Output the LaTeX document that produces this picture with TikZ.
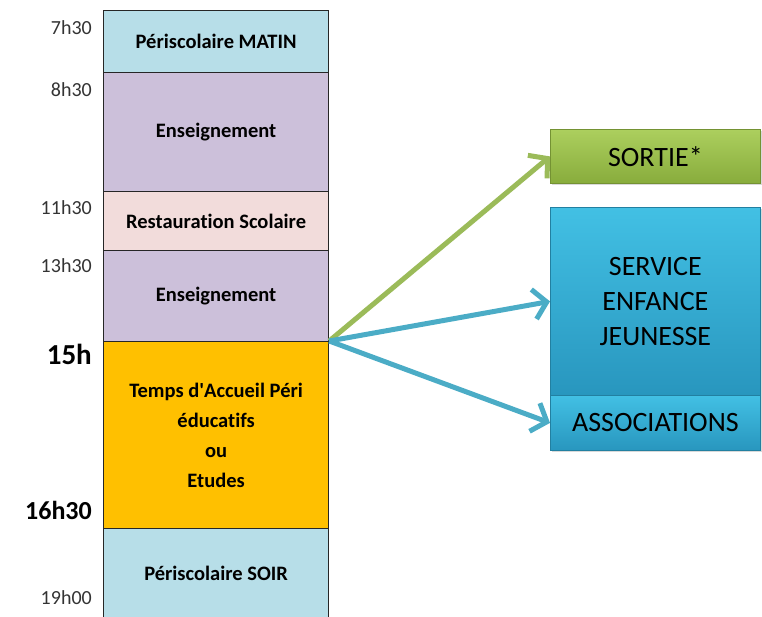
\documentclass[tikz,border=0pt]{standalone}
\usepackage{fontspec}
\setmainfont{Carlito}[Ligatures=NoCommon]
\usepackage{xcolor}
\usetikzlibrary{arrows.meta,shadows}

\definecolor{matin}{HTML}{B7DEE8}
\definecolor{cours}{HTML}{CCC0DA}
\definecolor{repas}{HTML}{F2DCDB}
\definecolor{tap}{HTML}{FFC000}
\definecolor{vert}{HTML}{9BBB59}
\definecolor{vertH}{HTML}{ACCF5E}
\definecolor{vertB}{HTML}{88AC3C}
\definecolor{bleu}{HTML}{4BACC6}
\definecolor{bleuH}{HTML}{42C0E4}
\definecolor{bleuB}{HTML}{2896BE}

\begin{document}
\begin{tikzpicture}[x=1pt,y=-1pt,
  every node/.style={inner sep=0pt},
  slot/.style={draw=black!85,line width=1.2pt,anchor=north west,minimum width=225pt,
    font=\fontsize{20.5}{30}\selectfont\bfseries,align=center},
  hour/.style={anchor=east,font=\fontsize{20}{22}\selectfont,text=black!80},
  bighour/.style={anchor=east,font=\fontsize{#1}{30}\selectfont\bfseries},
  exitbox/.style={anchor=north west,minimum width=210pt,draw=#1B!85!black,line width=0.8pt,
    top color=#1H,bottom color=#1B,
    drop shadow={opacity=0.3,shadow xshift=2pt,shadow yshift=-2pt},
    font=\fontsize{28}{35}\selectfont,align=center},
  link/.style={line width=5pt,draw=#1,-{Straight Barb[length=13pt,width=30pt]}}]
  \useasboundingbox (0,0) rectangle (762,616);
  \begin{scope}
    \clip (0,0) rectangle (762,616);
    % colonne de la journee
    \node[slot,fill=matin,minimum height=62pt] (matin) at (103,10) {P\'eriscolaire MATIN};
    \node[slot,fill=cours,minimum height=119pt] (cours1) at (103,72) {Enseignement};
    \node[slot,fill=repas,minimum height=59pt] (repas) at (103,191) {Restauration Scolaire};
    \node[slot,fill=cours,minimum height=91pt] (cours2) at (103,250) {Enseignement};
    \node[slot,fill=tap,minimum height=187pt] (tap) at (103,341)
      {Temps d\textquotesingle Accueil P\'eri\\\'educatifs\\ou\\Etudes};
    \node[slot,fill=matin,minimum height=90pt] (soir) at (103,528) {P\'eriscolaire SOIR};
  \end{scope}
  % heures
  \node[hour] (h7) at (92,28) {7h30};
  \node[hour] (h8) at (92,90) {8h30};
  \node[hour] (h11) at (92,208) {11h30};
  \node[hour] (h13) at (92,266) {13h30};
  \node[bighour=29] (h15) at (92,354) {15h};
  \node[bighour=26] (h16) at (92,510) {16h30};
  \node[hour] (h19) at (92,598) {19h00};
  % sorties possibles
  \node[exitbox=vert,minimum height=54pt] (sortie) at (550,129) {SORTIE*};
  \node[exitbox=bleu,minimum height=188pt] (sej) at (550,207) {SERVICE\\ENFANCE\\JEUNESSE};
  \node[exitbox=bleu,minimum height=55pt] (asso) at (550,395) {ASSOCIATIONS};
  \draw[link=vert] (tap.north east) -- (sortie.west);
  \draw[link=bleu] (tap.north east) -- (sej.west);
  \draw[link=bleu] (tap.north east) -- (asso.west);
\end{tikzpicture}
\end{document}
